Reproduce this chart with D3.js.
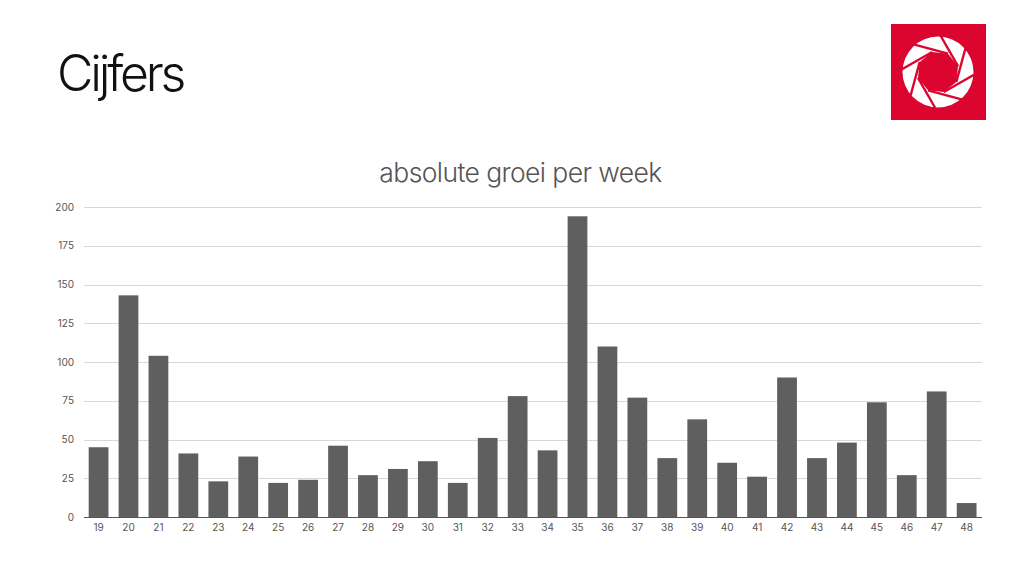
<!DOCTYPE html>
<html>
<head>
<meta charset="utf-8">
<script src="https://cdn.jsdelivr.net/npm/d3@7"></script>
<style>
  html, body { margin: 0; padding: 0; background: #fff; }
  svg { display: block; }
  text { font-family: Inter, "Liberation Sans", sans-serif; }
  .tick text { font-size: 10px; fill: #555; }
  .tick line, .domain { shape-rendering: crispEdges; }
</style>
</head>
<body>
<div id="chart"></div>
<script>
const weeks = ["19","20","21","22","23","24","25","26","27","28","29","30","31","32","33","34","35","36","37","38","39","40","41","42","43","44","45","46","47","48"];
const groei = [45,143,104,41,23,39,22,24,46,27,31,36,22,51,78,43,194,110,77,38,63,35,26,90,38,48,74,27,81,9];
const yTicks = [0,25,50,75,100,125,150,175,200];

const pageTitle = "Cijfers";
const chartTitle = "absolute groei per week";

const margin = {top: 207, right: 42, bottom: 59, left: 84},
    fullWidth = 1024,
    fullHeight = 576,
    width = fullWidth - margin.left - margin.right,
    height = fullHeight - margin.top - margin.bottom;

const root = d3.select("#chart")
  .append("svg")
    .attr("width", fullWidth)
    .attr("height", fullHeight);

root.append("text")
  .attr("x", 57)
  .attr("y", 91)
  .attr("font-size", 50)
  .attr("font-weight", 300)
  .attr("letter-spacing", -3.2)
  .attr("fill", "#111")
  .text(pageTitle);

root.append("text")
  .attr("x", 520.5)
  .attr("y", 182)
  .attr("text-anchor", "middle")
  .attr("font-size", 26.5)
  .attr("font-weight", 300)
  .attr("letter-spacing", -0.6)
  .attr("fill", "#555")
  .text(chartTitle);

const svg = root.append("g")
  .attr("transform", `translate(${margin.left}, ${margin.top})`);

const x = d3.scaleBand()
  .domain(weeks)
  .range([-0.4, width - 0.4])
  .paddingInner(0.34)
  .paddingOuter(0.17);

const y = d3.scaleLinear()
  .domain([0, 200])
  .range([height, 0]);

// y axis with the gridlines
const yAxisG = svg.append("g")
  .call(d3.axisLeft(y).tickValues(yTicks).tickSize(-width).tickPadding(10));
yAxisG.select(".domain").remove();
yAxisG.selectAll(".tick line").attr("stroke", "#d8d8d8");

// bars
svg.selectAll("rect.bar")
  .data(groei)
  .enter()
  .append("rect")
    .attr("class", "bar")
    .attr("x", (d, i) => x(weeks[i]))
    .attr("y", d => y(d))
    .attr("width", x.bandwidth())
    .attr("height", d => height - y(d))
    .attr("fill", "#5f5f5f");

// x axis
const xAxisG = svg.append("g")
  .attr("transform", `translate(0, ${height})`)
  .call(d3.axisBottom(x).tickSize(0).tickPadding(7));
xAxisG.select(".domain").attr("stroke", "#555").attr("stroke-width", 1.5);

// logo
const logo = root.append("g").attr("transform", "translate(938, 72)");
root.insert("rect", "g")
  .attr("x", 891)
  .attr("y", 24)
  .attr("width", 95)
  .attr("height", 96)
  .attr("fill", "#dc0530");
logo.append("circle").attr("r", 35.5).attr("fill", "#fff");

const slitStart = [-23.5, -27.4], slitEnd = [10, -18.3];
const turn = (p, a) => [
  p[0] * Math.cos(a) - p[1] * Math.sin(a),
  p[0] * Math.sin(a) + p[1] * Math.cos(a)
];
const angles = d3.range(8).map(k => k * Math.PI / 4);

// opening in the middle
logo.append("path")
  .attr("d", d3.line()(angles.map(a => turn(slitEnd, a))) + "Z")
  .attr("fill", "#dc0530");

logo.selectAll("line.slit")
  .data(angles)
  .enter()
  .append("line")
    .attr("class", "slit")
    .attr("x1", a => turn(slitStart, a)[0])
    .attr("y1", a => turn(slitStart, a)[1])
    .attr("x2", a => turn(slitEnd, a)[0])
    .attr("y2", a => turn(slitEnd, a)[1])
    .attr("stroke", "#dc0530")
    .attr("stroke-width", 2.4);
</script>
</body>
</html>
